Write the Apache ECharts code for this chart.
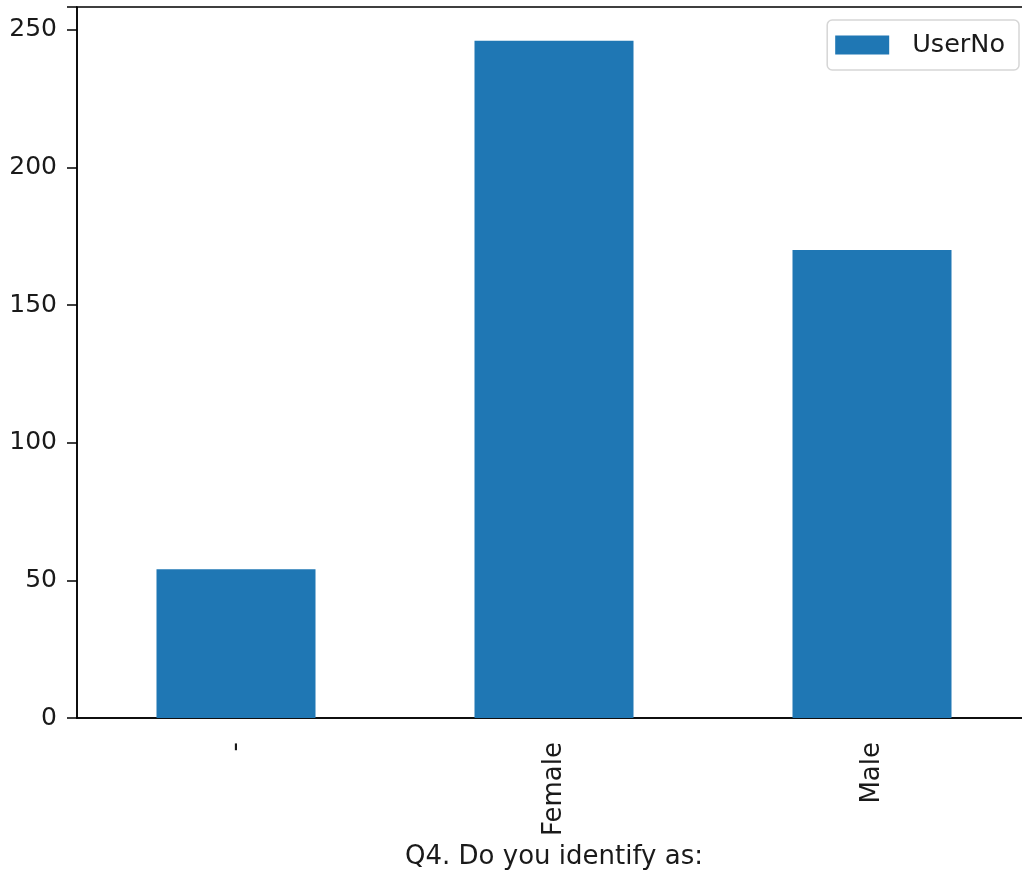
<!DOCTYPE html>
<html>
<head>
<meta charset="utf-8">
<script src="https://cdn.jsdelivr.net/npm/echarts@6/dist/echarts.min.js"></script>
<style>html,body{margin:0;padding:0;background:#fff;overflow:hidden;width:1022px;height:876px;}#c{width:1034px;height:876px;}</style>
</head>
<body>
<div id="c"></div>
<script>
const categories = ['-', 'Female', 'Male'];
const userNo = [54, 246, 170];
const yTicks = [0, 50, 100, 150, 200, 250];
const seriesName = 'UserNo';
const xTitle = 'Q4. Do you identify as:';

const chart = echarts.init(document.getElementById('c'), null, {renderer: 'canvas'});
const font = 'DejaVu Sans';
chart.setOption({
  animation: false,
  backgroundColor: '#fff',
  grid: {left: 77, right: 3, top: 7, bottom: 158, show: true, borderColor: '#000', borderWidth: 1.5, containLabel: false},
  legend: {
    data: [seriesName], right: 15, top: 20, orient: 'vertical',
    itemWidth: 54, itemHeight: 19, itemGap: 10,
    padding: [12, 14, 12, 8],
    borderColor: '#d6d6d6', borderWidth: 1.5, borderRadius: 5,
    backgroundColor: 'rgba(255,255,255,0.8)',
    textStyle: {fontFamily: font, fontSize: 25.5, color: '#1a1a1a', padding: [0, 0, 0, 18]},
    icon: 'rect'
  },
  xAxis: {
    type: 'category', data: categories,
    axisLine: {lineStyle: {color: '#000', width: 1.5}},
    axisTick: {alignWithLabel: true, length: 10, lineStyle: {color: '#000', width: 1.5}},
    axisLabel: {rotate: 90, fontFamily: font, fontSize: 26, color: '#1a1a1a', margin: 24, interval: 0},
    name: xTitle, nameLocation: 'middle', nameGap: 124,
    nameTextStyle: {fontFamily: font, fontSize: 26, color: '#1a1a1a'}
  },
  yAxis: {
    type: 'value', min: 0, max: 258.3, interval: 50,
    axisLine: {show: true, lineStyle: {color: '#000', width: 1.5}},
    axisTick: {show: true, length: 10, lineStyle: {color: '#000', width: 1.5}},
    splitLine: {show: false},
    axisLabel: {fontFamily: font, fontSize: 25, color: '#1a1a1a', margin: 20,
      formatter: v => yTicks.includes(v) ? String(v) : ''},
    showMaxLabel: false
  },
  series: [{
    name: seriesName, type: 'bar', data: userNo, barWidth: '50%',
    itemStyle: {color: '#1f77b4'}
  }]
});
</script>
</body>
</html>
